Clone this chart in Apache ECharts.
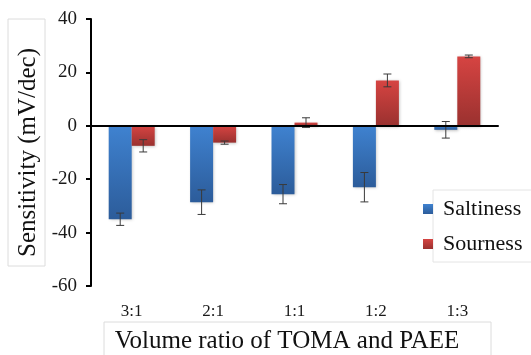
<!DOCTYPE html>
<html>
<head>
<meta charset="utf-8">
<script src="https://cdn.jsdelivr.net/npm/echarts@6/dist/echarts.min.js"></script>
<style>
html,body{margin:0;padding:0;background:#fff;}
#chart{width:531px;height:355px;}
</style>
</head>
<body>
<div id="chart"></div>
<script>
const categories = ['3:1', '2:1', '1:1', '1:2', '1:3'];
const saltiness = [-35.0, -28.6, -25.6, -23.0, -1.5];
const saltinessErr = [2.3, 4.6, 3.6, 5.5, 3.1];
const sourness = [-7.5, -6.3, 1.2, 17.0, 26.0];
const sournessErr = [2.3, 0.6, 1.8, 2.4, 0.5];
const yTicks = { min: -60, max: 40, interval: 20 };

const FONT = '"Liberation Serif", "Times New Roman", serif';
const BAR_W = 23;

function errSeries(name, vals, errs, offset) {
  return {
    name: name,
    type: 'custom',
    xAxisIndex: 0,
    yAxisIndex: 0,
    z: 4,
    silent: true,
    data: vals.map((v, i) => [i, v, errs[i]]),
    renderItem: function (params, api) {
      const i = api.value(0), v = api.value(1), e = api.value(2);
      const hi = api.coord([i, v + e]);
      const lo = api.coord([i, v - e]);
      const cx = hi[0] + offset;
      const cap = 4;
      const st = { stroke: '#3a3a3a', lineWidth: 1 };
      return {
        type: 'group',
        children: [
          { type: 'line', shape: { x1: cx, y1: hi[1], x2: cx, y2: lo[1] }, style: st },
          { type: 'line', shape: { x1: cx - cap, y1: hi[1], x2: cx + cap, y2: hi[1] }, style: st },
          { type: 'line', shape: { x1: cx - cap, y1: lo[1], x2: cx + cap, y2: lo[1] }, style: st }
        ]
      };
    }
  };
}

const chart = echarts.init(document.getElementById('chart'), null, { renderer: 'canvas' });
chart.setOption({
  animation: false,
  backgroundColor: '#fff',
  textStyle: { fontFamily: FONT },
  grid: { left: 91, right: 33, top: 19, bottom: 69, containLabel: false, outerBoundsMode: 'none' },
  graphic: [
    { type: 'rect', shape: { x: 8, y: 19, width: 37, height: 247 }, style: { fill: '#fff', stroke: '#dcdcdc', lineWidth: 1 }, z: -10 },
    { type: 'rect', shape: { x: 104, y: 322, width: 387, height: 50 }, style: { fill: '#fff', stroke: '#dcdcdc', lineWidth: 1 }, z: -10 },
    { type: 'rect', shape: { x: 433, y: 190, width: 120, height: 72 }, style: { fill: '#fff', stroke: '#e4e4e4', lineWidth: 1 }, z: -10 }
  ],
  legend: {
    orient: 'vertical',
    left: 423,
    top: 198,
    padding: 0,
    itemWidth: 10,
    itemHeight: 10,
    itemGap: 13,
    icon: 'rect',
    data: ['Saltiness', 'Sourness'],
    formatter: '{t|{name}}',
    textStyle: {
      fontFamily: FONT, fontSize: 22, color: '#111',
      rich: { t: { fontFamily: FONT, fontSize: 22, color: '#111', lineHeight: 24, padding: [0, 0, 0, 5] } }
    }
  },
  xAxis: [
    {
      type: 'category',
      data: categories,
      position: 'bottom',
      axisLine: { show: false, onZero: false },
      axisTick: { show: false },
      axisLabel: { fontFamily: FONT, fontSize: 17, color: '#1a1a1a', margin: 17 },
      name: 'Volume ratio of TOMA and PAEE',
      nameLocation: 'middle',
      nameGap: 43,
      nameTextStyle: { fontFamily: FONT, fontSize: 25, color: '#111', padding: [0, 15, 0, 0] }
    },
    {
      type: 'category',
      data: categories,
      position: 'bottom',
      z: 6,
      axisLine: { show: true, onZero: true, lineStyle: { color: '#000', width: 2 } },
      axisTick: { show: false },
      axisLabel: { show: false }
    }
  ],
  yAxis: {
    type: 'value',
    min: yTicks.min,
    max: yTicks.max,
    interval: yTicks.interval,
    axisLine: { show: true, lineStyle: { color: '#000', width: 2 } },
    axisTick: { show: true, inside: false, length: 5, lineStyle: { color: '#000', width: 2 } },
    splitLine: { show: false },
    axisLabel: { fontFamily: FONT, fontSize: 19, color: '#1a1a1a', margin: 14 },
    name: 'Sensitivity (mV/dec)',
    nameLocation: 'middle',
    nameGap: 50,
    nameTextStyle: { fontFamily: FONT, fontSize: 25, color: '#111' }
  },
  series: [
    {
      name: 'Saltiness',
      type: 'bar',
      xAxisIndex: 0,
      barWidth: BAR_W,
      barGap: '0%',
      data: saltiness,
      itemStyle: {
        color: { type: 'linear', x: 0, y: 0, x2: 0, y2: 1, colorStops: [ { offset: 0, color: '#3f82d0' }, { offset: 1, color: '#2c5c9a' } ] },
        shadowBlur: 3, shadowColor: 'rgba(0,0,0,0.25)', shadowOffsetX: 1, shadowOffsetY: 1
      }
    },
    {
      name: 'Sourness',
      type: 'bar',
      xAxisIndex: 0,
      barWidth: BAR_W,
      barGap: '0%',
      data: sourness,
      itemStyle: {
        color: { type: 'linear', x: 0, y: 0, x2: 0, y2: 1, colorStops: [ { offset: 0, color: '#d64442' }, { offset: 1, color: '#9a312f' } ] },
        shadowBlur: 3, shadowColor: 'rgba(0,0,0,0.25)', shadowOffsetX: 1, shadowOffsetY: 1
      }
    },
    errSeries('SaltinessErr', saltiness, saltinessErr, -BAR_W / 2),
    errSeries('SournessErr', sourness, sournessErr, BAR_W / 2)
  ]
});
</script>
</body>
</html>
